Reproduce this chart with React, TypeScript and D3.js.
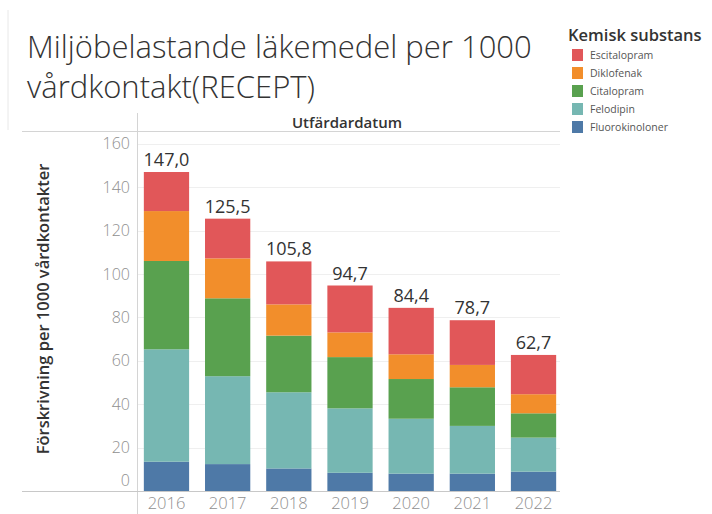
import React, { useRef, useEffect } from "react";
import * as d3 from "d3";

const years = ["2016", "2017", "2018", "2019", "2020", "2021", "2022"];
const substances = ["Fluorokinoloner", "Felodipin", "Citalopram", "Diklofenak", "Escitalopram"];
const legendOrder = ["Escitalopram", "Diklofenak", "Citalopram", "Felodipin", "Fluorokinoloner"];
const colors = ["#4E79A7", "#76B7B2", "#59A14F", "#F28E2B", "#E15759"];

const fluorokinoloner = [13.5, 12.4, 10.4, 8.4, 8.0, 8.0, 8.9];
const felodipin = [51.8, 40.5, 35.1, 29.7, 25.3, 22.0, 15.7];
const citalopram = [40.7, 35.9, 26.1, 23.6, 18.3, 17.8, 11.2];
const diklofenak = [23.0, 18.4, 14.4, 11.4, 11.4, 10.3, 8.8];
const escitalopram = [18.0, 18.3, 19.8, 21.6, 21.4, 20.6, 18.1];
const totals = ["147,0", "125,5", "105,8", "94,7", "84,4", "78,7", "62,7"];
const yTicks = [0, 20, 40, 60, 80, 100, 120, 140, 160];

const FONT = "'Open Sans', 'Noto Sans', sans-serif";

function App() {
  const ref = useRef<SVGSVGElement | null>(null);

  function drawChart() {
    const svg = d3.select(ref.current);
    svg.selectAll("*").remove();

    const rows = years.map((year, i) => ({
      year,
      Fluorokinoloner: fluorokinoloner[i],
      Felodipin: felodipin[i],
      Citalopram: citalopram[i],
      Diklofenak: diklofenak[i],
      Escitalopram: escitalopram[i],
    }));

    const x = d3
      .scaleBand()
      .domain(years)
      .range([136.5, 563.5])
      .paddingInner(0.26)
      .paddingOuter(0.12);
    const y = d3.scaleLinear().domain([0, 160]).range([491, 143.8]);
    const color = d3.scaleOrdinal<string, string>().domain(substances).range(colors);

    // title
    const title = svg
      .append("text")
      .attr("font-family", FONT)
      .attr("font-size", 31)
      .attr("font-weight", 300)
      .attr("fill", "#333");
    title.append("tspan").attr("x", 27).attr("y", 58).text("Miljöbelastande läkemedel per 1000");
    title.append("tspan").attr("x", 27).attr("y", 98).text("vårdkontakt(RECEPT)");

    // frame lines
    svg.append("line").attr("x1", 8).attr("x2", 8).attr("y1", 10).attr("y2", 130).attr("stroke", "#e8e8e8");
    svg.append("line").attr("x1", 22).attr("x2", 560).attr("y1", 131.5).attr("y2", 131.5).attr("stroke", "#d4d4d4");
    svg.append("line").attr("x1", 137.5).attr("x2", 137.5).attr("y1", 113).attr("y2", 514).attr("stroke", "#d4d4d4");

    svg
      .append("text")
      .attr("x", 347)
      .attr("y", 128)
      .attr("text-anchor", "middle")
      .attr("font-family", FONT)
      .attr("font-size", 15)
      .attr("font-weight", 600)
      .attr("fill", "#333")
      .text("Utfärdardatum");

    // grid
    svg
      .append("g")
      .selectAll("line")
      .data(yTicks.slice(1))
      .join("line")
      .attr("x1", 138)
      .attr("x2", 560)
      .attr("y1", (d) => Math.round(y(d)) + 0.5)
      .attr("y2", (d) => Math.round(y(d)) + 0.5)
      .attr("stroke", "#efefef");

    // y tick labels
    svg
      .append("g")
      .selectAll("text")
      .data(yTicks)
      .join("text")
      .attr("x", 130)
      .attr("y", (d) => (d === 0 ? y(d) - 11 : y(d)))
      .attr("dy", "0.35em")
      .attr("text-anchor", "end")
      .attr("font-family", FONT)
      .attr("font-size", 16)
      .attr("font-weight", 300)
      .attr("fill", "#8f8f8f")
      .text((d) => d);

    // y title
    svg
      .append("text")
      .attr("transform", `translate(49,309) rotate(-90)`)
      .attr("text-anchor", "middle")
      .attr("font-family", FONT)
      .attr("font-size", 16.5)
      .attr("font-weight", 600)
      .attr("fill", "#333")
      .text("Förskrivning per 1000 vårdkontakter");

    // bars
    const stacked = d3.stack<any>().keys(substances)(rows);
    svg
      .append("g")
      .selectAll("g")
      .data(stacked)
      .join("g")
      .attr("fill", (d) => color(d.key))
      .selectAll("rect")
      .data((d) => d)
      .join("rect")
      .attr("x", (d) => x(d.data.year)!)
      .attr("width", x.bandwidth())
      .attr("y", (d) => y(d[1]))
      .attr("height", (d) => y(d[0]) - y(d[1]));

    // totals
    const tops = stacked[stacked.length - 1];
    svg
      .append("g")
      .selectAll("text")
      .data(tops)
      .join("text")
      .attr("x", (d) => x(d.data.year)! + x.bandwidth() / 2)
      .attr("y", (d) => y(d[1]) - 6)
      .attr("text-anchor", "middle")
      .attr("font-family", FONT)
      .attr("font-size", 18)
      .attr("fill", "#333")
      .text((d, i) => totals[i]);

    // baseline
    svg.append("line").attr("x1", 22).attr("x2", 560).attr("y1", 491.5).attr("y2", 491.5).attr("stroke", "#c8c8c8");

    // x labels
    svg
      .append("g")
      .selectAll("text")
      .data(years)
      .join("text")
      .attr("x", (d) => x(d)! + x.bandwidth() / 2)
      .attr("y", 509)
      .attr("text-anchor", "middle")
      .attr("font-family", FONT)
      .attr("font-size", 16.5)
      .attr("font-weight", 300)
      .attr("fill", "#8f8f8f")
      .text((d) => d);

    // legend
    svg
      .append("text")
      .attr("x", 568)
      .attr("y", 41)
      .attr("font-family", FONT)
      .attr("font-size", 16.5)
      .attr("font-weight", 600)
      .attr("fill", "#333")
      .text("Kemisk substans");

    const leg = svg
      .append("g")
      .selectAll("g")
      .data(legendOrder)
      .join("g")
      .attr("transform", (d, i) => `translate(572,${49 + i * 18})`);
    leg.append("rect").attr("width", 11).attr("height", 12).attr("fill", (d) => color(d));
    leg
      .append("text")
      .attr("x", 18)
      .attr("y", 6)
      .attr("dy", "0.35em")
      .attr("font-family", FONT)
      .attr("font-size", 10.5)
      .attr("fill", "#555")
      .text((d) => d);
  }

  useEffect(() => {
    drawChart();
  }, []);

  return (
    <svg
      ref={ref}
      width={712}
      height={514}
      style={{ position: "absolute", left: 0, top: 0, background: "#fff" }}
    />
  );
}

export default App;
